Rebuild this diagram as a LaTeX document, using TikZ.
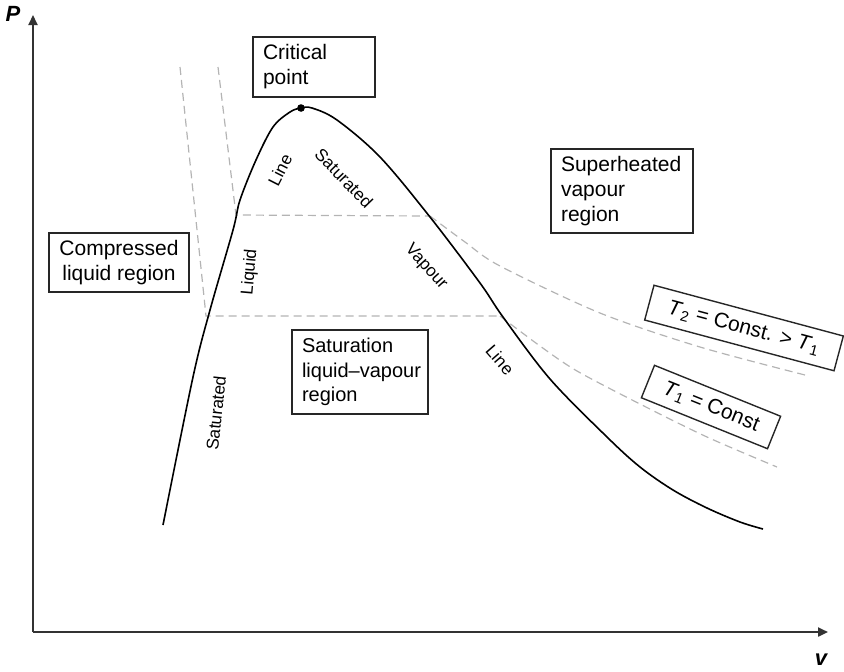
\documentclass[tikz,border=0pt]{standalone}
\usepackage{fontspec}
\setmainfont{Liberation Sans}
\usetikzlibrary{arrows.meta}
\definecolor{axisgray}{HTML}{333333}
\definecolor{isogray}{HTML}{B4B4B4}

\tikzset{
  regionbox/.style={draw=black!85, line width=0.7pt, inner xsep=5pt, inner ysep=3pt,
    align=left, font=\fontsize{10.5}{12.5}\selectfont},
  isotherm/.style={draw=isogray, dash pattern=on 4pt off 2.5pt, line width=0.6pt},
  satline/.style={draw=black, line width=0.8pt},
  curvelabel/.style={font=\fontsize{8.6}{10}\selectfont, inner sep=1pt},
  axislabel/.style={font=\bfseries\itshape\fontsize{11}{12}\selectfont, inner sep=1pt},
}

\begin{document}
\begin{tikzpicture}[x=0.5pt,y=-0.5pt]
  \useasboundingbox (0,0) rectangle (844,671);

  % axes
  \coordinate (origin) at (33,632);
  \coordinate (ptop) at (33,15);
  \coordinate (vend) at (828,632);
  \draw[axisgray, line width=1.1pt, -{Triangle[length=5pt,width=4.5pt]}] (origin) -- (ptop);
  \draw[axisgray, line width=1.1pt, -{Triangle[length=5pt,width=4.5pt]}] (origin) -- (vend);
  \node[axislabel] (plabel) at (13,14) {P};
  \node[axislabel] (vlabel) at (821,660) {v};

  % isotherms
  \draw[isotherm] (180,67) -- (206,316) -- (500,316);
  \draw[isotherm] plot[smooth] coordinates {(500,316) (540,346) (577,371) (640,404) (707,437) (777,467)};
  \draw[isotherm] (218,67) -- (236,215) -- (430,216);
  \draw[isotherm] plot[smooth] coordinates {(430,216) (465,242) (500,266) (600,313) (700,347) (805,375)};

  % saturation dome
  \draw[satline] plot[smooth, tension=0.55] coordinates {(163,525) (193,377) (210,310)
    (233,230) (240,200) (256,160) (273,127) (290,112) (301,108) (312,108) (337,120)
    (380,157) (430,217) (480,283) (503,317) (550,379) (607,437) (640,467)
    (673,490) (707,508) (740,522) (763,529)};
  \node[circle, fill, inner sep=0pt, minimum size=3.8pt] (cp) at (301,108) {};

  % regions
  \node[regionbox, minimum width=61pt, minimum height=30pt, text width=51pt] (critbox) at (314,67) {Critical\\point};
  \node[regionbox, align=center, minimum width=70pt, minimum height=29.5pt] (compbox) at (119,262.5) {Compressed\\liquid region};
  \node[regionbox, font=\fontsize{10}{12.2}\selectfont, minimum width=68pt, minimum height=42pt, text width=58pt] (satbox) at (360,372)
    {Saturation\\\mbox{liquid--vapour}\\region};
  \node[regionbox, minimum width=71pt, minimum height=42pt, text width=61pt] (supbox) at (622,191) {Superheated\\vapour\\region};
  \node[regionbox, align=center, minimum width=98pt, minimum height=18pt, inner ysep=1pt, rotate=-15] (ttwo) at (744,328)
    {\textit{T}\textsubscript{2} = Const. {>} \textit{T}\textsubscript{1}};
  \node[regionbox, align=center, minimum width=68pt, minimum height=17.5pt, inner ysep=1pt, rotate=-22] (tone) at (711,407)
    {\textit{T}\textsubscript{1} = Const};

  % labels along the curve
  \node[curvelabel, rotate=63] (lineup) at (280,170) {Line};
  \node[curvelabel, rotate=-46] (satup) at (344,178) {Saturated};
  \node[curvelabel, rotate=-48] (vap) at (426,267) {Vapour};
  \node[curvelabel, rotate=-49] (linedown) at (500,360) {Line};
  \node[curvelabel, rotate=85] (liq) at (250,272) {Liquid};
  \node[curvelabel, rotate=84] (satdown) at (216,413) {Saturated};
\end{tikzpicture}
\end{document}
